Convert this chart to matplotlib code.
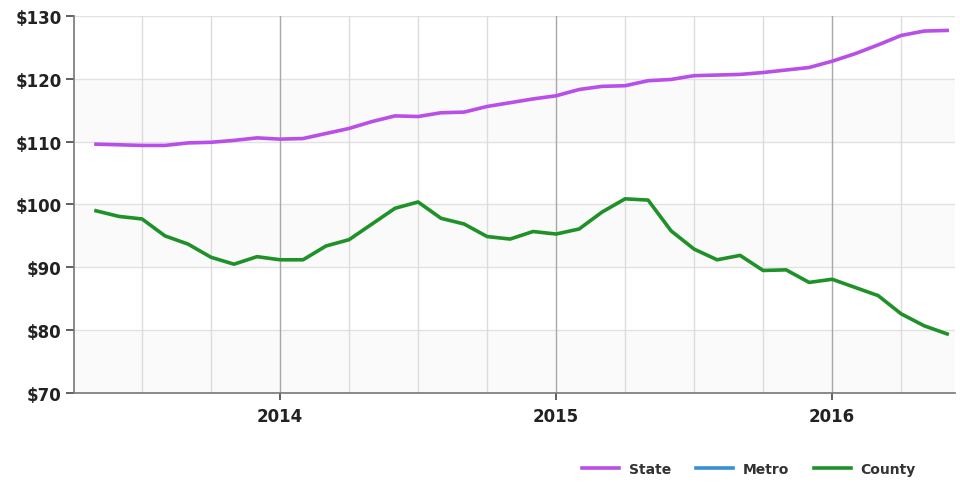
import numpy as np
import matplotlib
matplotlib.use('Agg')
import matplotlib.pyplot as plt

plt.rcParams['font.family'] = ['DejaVu Sans']

# months counted from Jan 2014 (May 2013 .. Jun 2016)
months = list(range(-8, 30))

state = [109.6, 109.5, 109.4, 109.4, 109.8, 109.9, 110.2, 110.6,
         110.4, 110.5, 111.3, 112.1, 113.2, 114.1, 114.0, 114.6, 114.7, 115.6, 116.2, 116.8,
         117.3, 118.3, 118.8, 118.9, 119.7, 119.9, 120.5, 120.6, 120.7, 121.0, 121.4, 121.8,
         122.8, 124.0, 125.4, 126.9, 127.6, 127.7]
metro = []
county = [99.0, 98.1, 97.7, 95.0, 93.7, 91.6, 90.5, 91.7,
          91.2, 91.2, 93.4, 94.4, 96.9, 99.4, 100.4, 97.8, 96.9, 94.9, 94.5, 95.7,
          95.3, 96.1, 98.8, 100.9, 100.7, 95.8, 92.9, 91.2, 91.9, 89.5, 89.6, 87.6,
          88.1, 86.8, 85.5, 82.6, 80.7, 79.4]

year_ticks = [0, 12, 24]
year_labels = ['2014', '2015', '2016']
y_ticks = [70, 80, 90, 100, 110, 120, 130]

fig = plt.figure(figsize=(9.6, 4.85), dpi=100)
ax = fig.add_axes([0.077, 0.1876, 0.918, 0.7774])

# alternating bands
for lo in [70, 90, 110]:
    ax.axhspan(lo, lo + 10, color='#fafafa', zorder=0, lw=0)

for y in y_ticks[1:]:
    ax.axhline(y, color='#e2e2e2', lw=1, zorder=1)
for m in range(-6, 30, 3):
    c = '#a8a8a8' if m % 12 == 0 else '#dcdcdc'
    ax.axvline(m, color=c, lw=1, zorder=1)

ax.plot(months, state, color='#b84fe8', lw=2.6, label='State', zorder=3)
ax.plot(months[:len(metro)], metro, color='#3a8fd4', lw=2.6, label='Metro', zorder=3)
ax.plot(months, county, color='#1f9129', lw=2.6, label='County', zorder=3)

ax.set_xlim(-8.96, 29.35)
ax.set_ylim(70, 130)
ax.set_yticks(y_ticks)
ax.set_yticklabels(['$%d' % v for v in y_ticks], fontsize=12, fontweight='bold', color='#222222')
ax.set_xticks(year_ticks)
ax.set_xticklabels(year_labels, fontsize=12, fontweight='bold', color='#222222')
ax.tick_params(axis='y', length=6, width=1.2, color='#444444', pad=3)
ax.tick_params(axis='x', length=5, width=1.2, color='#444444', pad=5)

for s in ['top', 'right']:
    ax.spines[s].set_visible(False)
for s in ['left', 'bottom']:
    ax.spines[s].set_color('#777777')
    ax.spines[s].set_linewidth(1.2)

leg = fig.legend(loc='center right', bbox_to_anchor=(0.967, 0.031), ncol=3, frameon=False,
                 prop={'weight': 'bold', 'size': 10}, handlelength=2.65, columnspacing=1.8,
                 handletextpad=0.7)
for t in leg.get_texts():
    t.set_color('#333333')

fig.savefig('out.png', dpi=100)
